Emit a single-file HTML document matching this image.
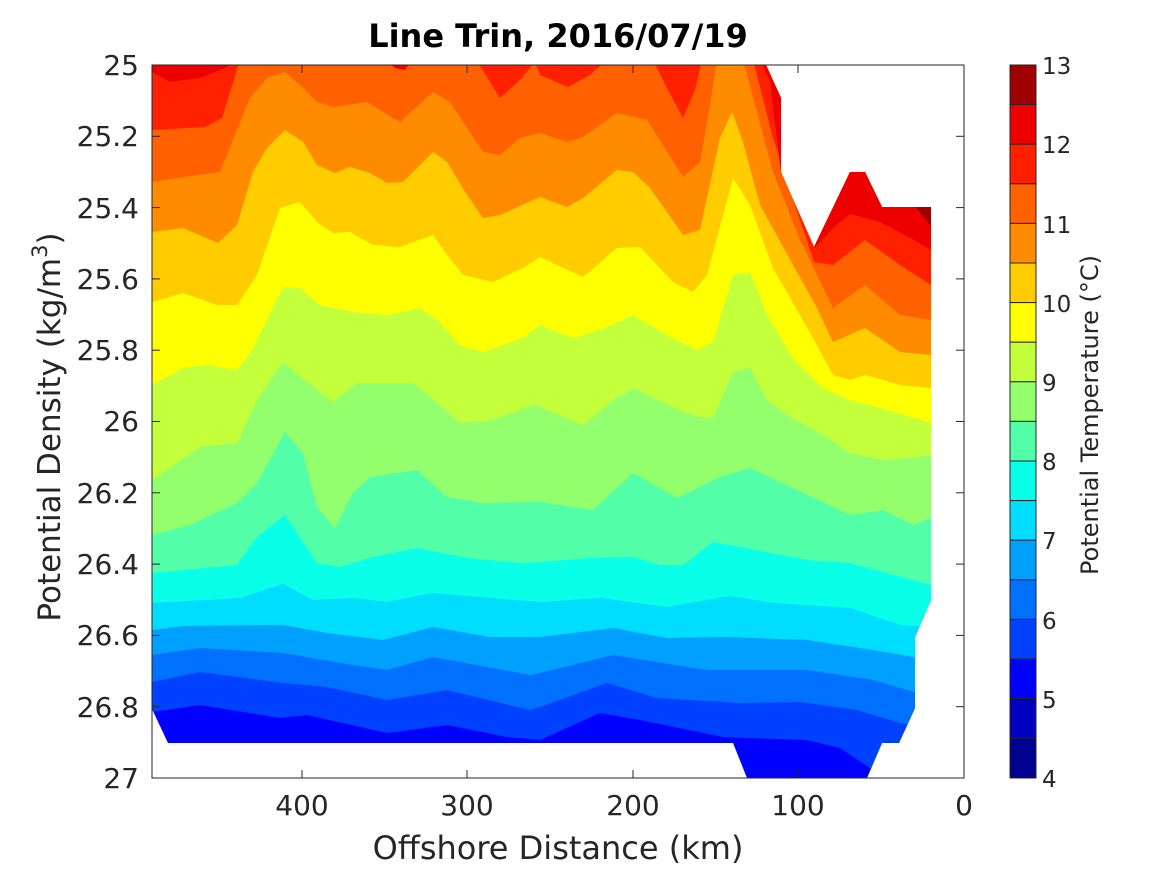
<!DOCTYPE html>
<html><head><meta charset="utf-8"><style>
html,body{margin:0;padding:0;background:#fff;}
svg{display:block;font-family:"DejaVu Sans","Liberation Sans",sans-serif;}
</style></head><body>
<svg width="1167" height="875" viewBox="0 0 1167 875" xmlns="http://www.w3.org/2000/svg">
<defs>
<clipPath id="m"><polygon points="152,65 766,65 781,98 781,172 814,247 850,172 865,172 882,207 931,207 931,600 915,637 915,708 899,743 882,743 867,778 747,778 733,743 168,743 152,709"/></clipPath>
</defs>
<g clip-path="url(#m)">
<rect x="150" y="60" width="800" height="730" fill="#0000ff"/>
<polygon fill="#0040ff" points="152,60 152,712 200,705 280,718 307,715 387,733 447,725 507,737 540,740 600,713 640,720 723,737 747,738 807,740 840,748 873,770 931,790 931,60"/>
<polygon fill="#0070ff" points="152,60 152,682 200,672 283,683 327,687 387,700 447,690 530,710 540,707 607,683 657,698 740,703 800,702 857,710 900,723 931,728 931,60"/>
<polygon fill="#00a0ff" points="152,60 152,655 200,648 283,653 340,663 387,670 433,657 530,675 540,673 613,655 707,670 807,670 873,680 931,697 931,60"/>
<polygon fill="#00ddff" points="152,60 152,630 183,626 283,625 327,633 383,640 433,627 490,637 540,637 613,628 667,638 727,637 807,640 873,650 931,660 931,60"/>
<polygon fill="#0affe8" points="152,60 152,603 207,600 240,598 283,584 313,600 353,598 387,602 433,593 490,598 540,602 600,598 667,607 730,596 773,603 850,608 900,625 931,627 931,60"/>
<polygon fill="#52ffa8" points="152,60 152,573 237,565 257,537 285,515 317,563 340,567 373,557 417,548 467,558 520,563 540,562 590,558 633,557 660,565 683,565 713,542 740,547 807,560 850,563 931,585 931,60"/>
<polygon fill="#94ff6c" points="152,60 152,535 190,525 237,503 257,483 285,432 303,453 317,507 335,528 353,493 370,477 417,470 447,497 483,503 540,502 593,510 633,473 677,498 720,477 750,468 780,482 850,515 883,510 913,525 931,518 931,60"/>
<polygon fill="#c4ff3c" points="152,60 152,480 200,447 237,443 257,400 283,362 307,382 333,402 357,383 413,383 440,405 460,423 493,420 533,405 540,407 583,425 613,400 633,388 683,412 700,417 713,418 733,372 750,368 767,400 790,417 827,437 850,453 883,460 917,457 931,455 931,60"/>
<polygon fill="#ffff00" points="152,60 152,385 183,368 207,365 237,370 253,348 283,287 300,288 320,305 353,312 387,315 420,308 440,322 460,345 483,352 523,338 540,325 573,338 607,327 633,315 667,335 697,350 713,342 733,275 750,272 767,315 793,358 823,388 850,400 880,408 905,415 931,423 931,60"/>
<polygon fill="#ffcc00" points="152,60 152,302 183,293 217,305 237,305 257,275 280,208 300,202 317,222 333,233 350,232 373,245 400,247 433,235 447,255 463,275 493,282 523,268 540,257 583,277 617,248 640,247 673,282 693,292 707,275 733,178 750,205 773,268 813,338 833,375 850,380 865,375 900,385 931,388 931,60"/>
<polygon fill="#ff8c00" points="152,60 152,232 183,228 218,243 237,225 253,172 267,148 285,130 303,142 317,165 335,173 350,167 370,173 387,183 403,182 433,152 447,162 467,195 483,218 500,215 540,197 567,207 583,198 617,170 633,172 650,188 683,235 700,230 720,138 732,112 743,142 760,205 797,272 817,308 833,342 865,328 900,352 931,355 931,60"/>
<polygon fill="#ff6000" points="152,60 152,182 183,177 220,172 240,122 250,98 267,78 285,72 300,85 317,102 333,107 367,102 400,122 433,92 450,102 483,152 500,155 520,138 540,133 567,142 583,137 617,113 647,120 683,177 700,162 710,105 717,60 743,60 773,172 800,240 833,308 865,285 900,315 931,320 931,60"/>
<polygon fill="#ff2000" points="152,60 152,130 205,127 222,118 240,60 390,60 400,70 410,60 470,60 480,66 500,98 520,80 535,62 540,75 568,87 590,75 607,60 653,60 668,90 683,118 695,90 702,60 753,60 773,138 795,205 814,262 833,265 865,240 900,265 931,285 931,60"/>
<polygon fill="#ee0000" points="152,60 152,72 170,82 200,78 225,68 240,60 385,60 395,68 405,70 412,60 760,60 770,82 781,172 800,215 815,248 833,228 850,214 880,222 905,235 931,250 931,60"/>
<polygon fill="#a00000" points="910,200 931,200 931,226"/>
</g>
<rect x="152" y="65" width="812" height="713" fill="none" stroke="#262626" stroke-width="1"/>
<g stroke="#262626" stroke-width="1">
<line x1="302" y1="778" x2="302" y2="770"/><line x1="467" y1="778" x2="467" y2="770"/><line x1="633" y1="778" x2="633" y2="770"/><line x1="798" y1="778" x2="798" y2="770"/>
<line x1="302" y1="65" x2="302" y2="73"/><line x1="467" y1="65" x2="467" y2="73"/><line x1="633" y1="65" x2="633" y2="73"/><line x1="798" y1="65" x2="798" y2="73"/>
<line x1="152" y1="136.3" x2="160" y2="136.3"/><line x1="152" y1="207.6" x2="160" y2="207.6"/><line x1="152" y1="278.9" x2="160" y2="278.9"/><line x1="152" y1="350.2" x2="160" y2="350.2"/><line x1="152" y1="421.5" x2="160" y2="421.5"/><line x1="152" y1="492.8" x2="160" y2="492.8"/><line x1="152" y1="564.1" x2="160" y2="564.1"/><line x1="152" y1="635.4" x2="160" y2="635.4"/><line x1="152" y1="706.7" x2="160" y2="706.7"/>
<line x1="964" y1="136.3" x2="956" y2="136.3"/><line x1="964" y1="207.6" x2="956" y2="207.6"/><line x1="964" y1="278.9" x2="956" y2="278.9"/><line x1="964" y1="350.2" x2="956" y2="350.2"/><line x1="964" y1="421.5" x2="956" y2="421.5"/><line x1="964" y1="492.8" x2="956" y2="492.8"/><line x1="964" y1="564.1" x2="956" y2="564.1"/><line x1="964" y1="635.4" x2="956" y2="635.4"/><line x1="964" y1="706.7" x2="956" y2="706.7"/>
</g>
<g font-size="28" fill="#262626" text-anchor="end">
<text x="139" y="75">25</text><text x="139" y="146">25.2</text><text x="139" y="218">25.4</text><text x="139" y="289">25.6</text><text x="139" y="360">25.8</text><text x="139" y="431">26</text><text x="139" y="503">26.2</text><text x="139" y="574">26.4</text><text x="139" y="645">26.6</text><text x="139" y="717">26.8</text><text x="139" y="788">27</text>
</g>
<g font-size="28" fill="#262626" text-anchor="middle">
<text x="302" y="815">400</text><text x="467" y="815">300</text><text x="633" y="815">200</text><text x="798" y="815">100</text><text x="964" y="815">0</text>
</g>
<text x="558" y="859" font-size="32" fill="#262626" text-anchor="middle">Offshore Distance (km)</text>
<text transform="translate(60,427) rotate(-90)" font-size="31" fill="#262626" text-anchor="middle">Potential Density (kg/m<tspan font-size="21" dy="-13">3</tspan><tspan dy="13">)</tspan></text>
<text x="558" y="47" font-size="32" font-weight="bold" fill="#000" text-anchor="middle">Line Trin, 2016/07/19</text>
<g stroke="#262626" stroke-width="1">
<rect x="1010" y="65" width="26" height="39.6" fill="#a00000"/>
<rect x="1010" y="104.6" width="26" height="39.6" fill="#ee0000"/>
<rect x="1010" y="144.2" width="26" height="39.6" fill="#ff2000"/>
<rect x="1010" y="183.8" width="26" height="39.6" fill="#ff6000"/>
<rect x="1010" y="223.4" width="26" height="39.6" fill="#ff8c00"/>
<rect x="1010" y="263" width="26" height="39.6" fill="#ffcc00"/>
<rect x="1010" y="302.6" width="26" height="39.6" fill="#ffff00"/>
<rect x="1010" y="342.2" width="26" height="39.6" fill="#c4ff3c"/>
<rect x="1010" y="381.8" width="26" height="39.6" fill="#94ff6c"/>
<rect x="1010" y="421.4" width="26" height="39.6" fill="#52ffa8"/>
<rect x="1010" y="461" width="26" height="39.6" fill="#0affe8"/>
<rect x="1010" y="500.6" width="26" height="39.6" fill="#00ddff"/>
<rect x="1010" y="540.2" width="26" height="39.6" fill="#00a0ff"/>
<rect x="1010" y="579.8" width="26" height="39.6" fill="#0070ff"/>
<rect x="1010" y="619.4" width="26" height="39.6" fill="#0040ff"/>
<rect x="1010" y="659" width="26" height="39.6" fill="#0000ff"/>
<rect x="1010" y="698.6" width="26" height="39.6" fill="#0000c0"/>
<rect x="1010" y="738.2" width="26" height="39.8" fill="#000090"/>
</g>
<g font-size="23" fill="#262626">
<text x="1042" y="74">13</text><text x="1042" y="153">12</text><text x="1042" y="233">11</text><text x="1042" y="312">10</text><text x="1042" y="391">9</text><text x="1042" y="470">8</text><text x="1042" y="549">7</text><text x="1042" y="629">6</text><text x="1042" y="708">5</text><text x="1042" y="787">4</text>
</g>
<text transform="translate(1098,415) rotate(-90)" font-size="24" fill="#262626" text-anchor="middle">Potential Temperature (°C)</text>
</svg>
</body></html>
